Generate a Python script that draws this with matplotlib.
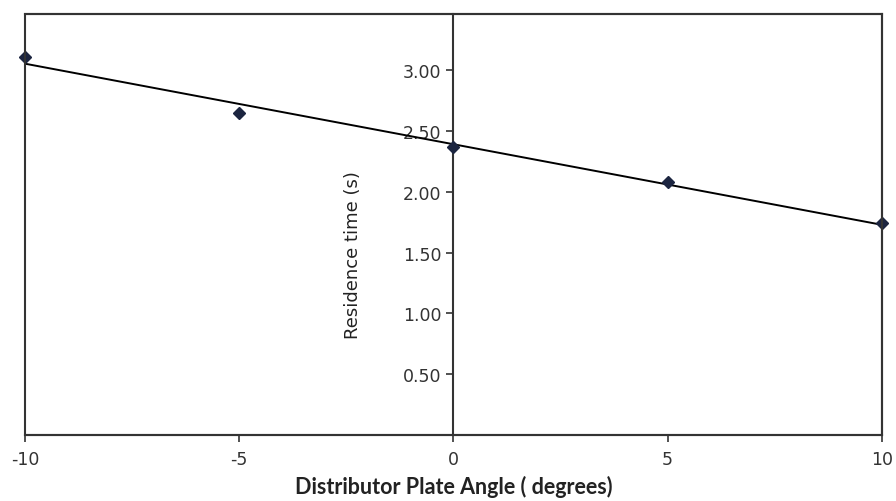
import numpy as np
import matplotlib.pyplot as plt
from matplotlib.patches import Rectangle

plt.rcParams['font.family'] = ['DejaVu Sans']

# data
angle = [-10, -5, 0, 5, 10]
residence = [3.11, 2.65, 2.37, 2.08, 1.74]
xticks = [-10, -5, 0, 5, 10]
yticks = [0.5, 1.0, 1.5, 2.0, 2.5, 3.0]

fig = plt.figure(figsize=(8.96, 5.02), dpi=100)
ax = fig.add_axes([0.028, 0.1315, 0.956, 0.8385])

# linear trendline
k, b = np.polyfit(angle, residence, 1)
xs = np.array([-10, 10])
ax.plot(xs, k * xs + b, color='black', lw=1.4, zorder=2)
ax.plot(angle, residence, linestyle='none', marker='D', markersize=6,
        color='#1c2540', clip_on=False, zorder=3)

ax.set_xlim(-10, 10)
ax.set_ylim(0, 3.46)

ax.spines['left'].set_position(('data', 0))
for s in ['left', 'bottom', 'top', 'right']:
    ax.spines[s].set_color('#333333')
    ax.spines[s].set_linewidth(1.5)
ax.add_patch(Rectangle((0, 0), 1, 1, transform=ax.transAxes, fill=False,
                       edgecolor='#333333', lw=1.5, clip_on=False, zorder=4))

ax.set_xticks(xticks)
ax.set_xticklabels([str(v) for v in xticks])
ax.set_yticks(yticks)
ax.set_yticklabels(['%.2f' % v for v in yticks])
ax.tick_params(axis='both', direction='out', length=5, width=1.2,
               color='#333333', labelsize=12.5, labelcolor='#333333')
ax.tick_params(axis='x', pad=6)

ax.set_ylabel('Residence time (s)', fontsize=13, color='#222222')
ax.yaxis.set_label_coords(0.393, 0.43)
ax.set_xlabel('Distributor Plate Angle ( degrees)', fontsize=15.5,
              fontweight='bold', color='#222222', labelpad=5,
              family=['Lato', 'DejaVu Sans'])

fig.savefig('out.png', dpi=100)
